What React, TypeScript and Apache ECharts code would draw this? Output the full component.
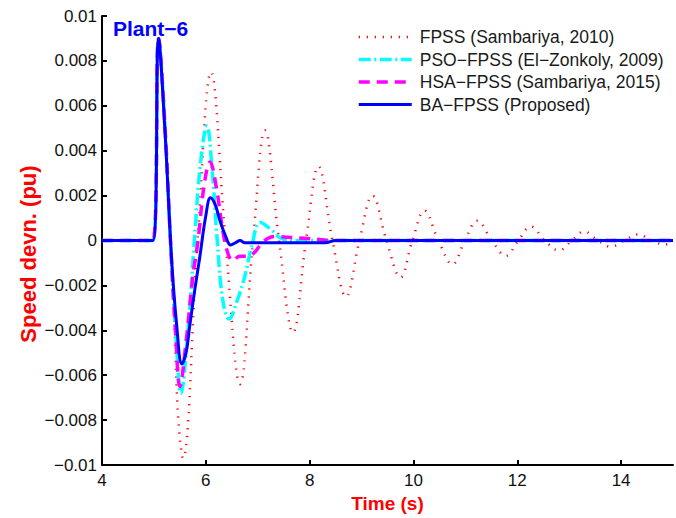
import React, { useEffect, useRef } from 'react';
import * as echarts from 'echarts';

const SERIES_NAMES = [
  'FPSS (Sambariya, 2010)',
  'PSO\u2212FPSS (El\u2212Zonkoly, 2009)',
  'HSA\u2212FPSS (Sambariya, 2015)',
  'BA\u2212FPSS (Proposed)',
];
const SERIES_COLORS = ['#ff0000', '#00ffff', '#ff00ff', '#0000ff'];

const X_MIN = 4;
const X_MAX = 15;
const X_STEP = 2;
const Y_MIN = -0.01;
const Y_MAX = 0.01;
const Y_STEP = 0.002;

const TITLE = 'Plant\u22126';
const X_NAME = 'Time (s)';
const Y_NAME = 'Speed devn. (pu)';

// [time (s), speed deviation (pu)]
const fpss: [number, number][] = [
  [4, 0], [4.98, 0], [5.09, 0.009], [5.21, 0.005], [5.33, -0.0005], [5.40, -0.004],
  [5.47, -0.008], [5.56, -0.0097], [5.84, 0], [6.10, 0.0075], [6.38, 0], [6.66, -0.0064],
  [6.91, 0], [7.14, 0.0049], [7.41, 0], [7.68, -0.0041], [7.93, 0], [8.17, 0.0033],
  [8.44, 0], [8.70, -0.0025], [8.96, 0], [9.21, 0.002], [9.48, 0], [9.75, -0.00164],
  [9.98, 0], [10.21, 0.00133], [10.48, 0], [10.75, -0.00106], [10.99, 0], [11.23, 0.00088],
  [11.51, 0], [11.78, -0.00068], [12.02, 0], [12.26, 0.00062], [12.53, 0], [12.8, -0.00044],
  [13.05, 0], [13.29, 0.0004], [13.55, 0], [13.8, -0.00027], [14.07, 0], [14.33, 0.00027],
  [14.59, 0], [14.84, -0.00018], [15, -0.00005],
];

const psoFpss: [number, number][] = [
  [4, 0], [4.98, 0], [5.09, 0.009], [5.21, 0.0052], [5.33, -0.0005], [5.43, -0.0045],
  [5.52, -0.0068], [5.65, -0.0042], [5.78, 0], [5.9, 0.0035], [6.02, 0.0051], [6.12, 0.0032],
  [6.22, 0], [6.33, -0.0027], [6.45, -0.0035], [6.6, -0.0027], [6.75, -0.0016], [6.88, -0.0003],
  [7.05, 0.0008], [7.25, 0.0005], [7.45, 0.0001], [7.7, 0], [15, 0],
];

const hsaFpss: [number, number][] = [
  [4, 0], [4.98, 0], [5.09, 0.009], [5.21, 0.0052], [5.33, -0.0005], [5.42, -0.0042],
  [5.5, -0.0065], [5.62, -0.0045], [5.75, -0.0016], [5.85, 0], [5.97, 0.0025], [6.08, 0.0035],
  [6.2, 0.0024], [6.33, 0.0004], [6.43, -0.0006], [6.52, -0.0009], [6.65, -0.0007], [6.82, -0.0007],
  [6.95, -0.0005], [7.05, -0.0002], [7.2, 0.0001], [7.35, 0.00018], [7.6, 0.00014], [7.9, 0.0001],
  [8.2, 0.00004], [8.4, 0], [15, 0],
];

const baFpss: [number, number][] = [
  [4, 0], [4.98, 0], [5.09, 0.009], [5.21, 0.005], [5.34, -0.0008], [5.44, -0.0038],
  [5.54, -0.0055], [5.62, -0.005], [5.69, -0.0038], [5.8, -0.002], [5.88, -0.0008], [6.0, 0.0011],
  [6.09, 0.0019], [6.18, 0.0016], [6.27, 0.0009], [6.38, 0.0002], [6.48, -0.0002], [6.57, -0.0001],
  [6.66, 0], [6.75, -0.0001], [7.5, -0.0001], [8.3, -0.0001], [8.5, 0], [15, 0],
];

const SERIES_DATA = [fpss, psoFpss, hsaFpss, baFpss];
const LINE_TYPES: (number[] | 'solid')[] = [[1.2, 6.8], [12, 3.5, 2, 3.5], [11, 7], 'solid'];
const LINE_WIDTHS = [2.5, 3.5, 3.5, 3];

const FONT = "'Liberation Sans', Arial, Helvetica, sans-serif";

function fmtY(v: number): string {
  if (Math.abs(v) < 1e-9) return '0';
  const s = parseFloat(Math.abs(v).toFixed(4)).toString();
  return v < 0 ? '\u2212' + s : s;
}

export default function App() {
  const ref = useRef<HTMLDivElement>(null);
  useEffect(() => {
    if (!ref.current) return;
    const chart = echarts.init(ref.current, undefined, { renderer: 'svg' });
    chart.setOption({
      animation: false,
      backgroundColor: '#ffffff',
      title: {
        text: TITLE,
        left: 113,
        top: 18,
        padding: 0,
        textStyle: { color: '#0000ff', fontWeight: 'bold', fontSize: 21, fontFamily: FONT },
      },
      legend: {
        orient: 'vertical',
        left: 357,
        top: 28,
        padding: 0,
        itemWidth: 53,
        itemHeight: 12,
        itemGap: 4.5,
        textStyle: { fontSize: 17.5, color: '#1a1a1a', fontFamily: FONT, padding: [0, 0, 0, 3] },
        data: SERIES_NAMES.map((n, i) => ({
          name: n,
          itemStyle: { opacity: 0 },
          lineStyle: { width: LINE_WIDTHS[i], type: LINE_TYPES[i], color: SERIES_COLORS[i] },
        })),
      },
      graphic: [
        {
          type: 'text',
          x: 28,
          y: 254,
          rotation: Math.PI / 2,
          style: {
            text: Y_NAME,
            fill: '#ff0000',
            font: `bold 22px ${FONT}`,
            align: 'center',
            verticalAlign: 'middle',
          },
        },
      ],
      grid: { left: 102, right: 3, top: 16, bottom: 49, containLabel: false },
      xAxis: {
        type: 'value',
        min: X_MIN,
        max: X_MAX,
        interval: X_STEP,
        name: X_NAME,
        nameLocation: 'middle',
        nameGap: 29,
        nameTextStyle: { color: '#ff0000', fontWeight: 'bold', fontSize: 19, fontFamily: FONT },
        axisLine: { onZero: false, lineStyle: { color: '#000', width: 2 } },
        axisTick: { inside: true, length: 5, lineStyle: { color: '#000', width: 2 } },
        axisLabel: {
          color: '#111',
          fontSize: 17,
          fontFamily: FONT,
          margin: 7,
          showMaxLabel: false,
          formatter: (v: number) => (v >= X_MAX ? '' : String(v)),
        },
        splitLine: { show: false },
      },
      yAxis: {
        type: 'value',
        min: Y_MIN,
        max: Y_MAX,
        interval: Y_STEP,
        axisLine: { onZero: false, lineStyle: { color: '#000', width: 2 } },
        axisTick: { inside: true, length: 5, lineStyle: { color: '#000', width: 2 } },
        axisLabel: { color: '#111', fontSize: 17, fontFamily: FONT, margin: 5, formatter: fmtY },
        splitLine: { show: false },
      },
      series: SERIES_NAMES.map((n, i) => ({
        name: n,
        type: 'line',
        data: SERIES_DATA[i],
        symbol: 'none',
        smooth: 0.4,
        lineStyle: { color: SERIES_COLORS[i], width: LINE_WIDTHS[i], type: LINE_TYPES[i] },
        itemStyle: { color: SERIES_COLORS[i] },
        z: 2 + i,
      })),
    });
    return () => chart.dispose();
  }, []);
  return (
    <div
      ref={ref}
      style={{ position: 'absolute', left: 0, top: 0, width: 676, height: 518, background: '#fff' }}
    />
  );
}
